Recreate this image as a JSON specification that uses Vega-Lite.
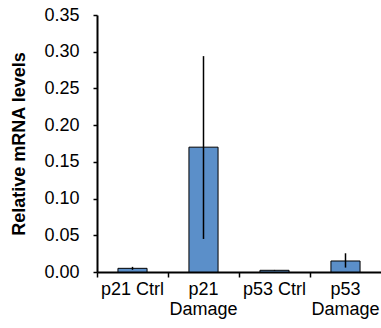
{
  "$schema": "https://vega.github.io/schema/vega-lite/v6.json",
  "width": 284,
  "height": 257,
  "autosize": "none",
  "padding": {"left": 97, "top": 15, "right": 0, "bottom": 56},
  "background": "white",
  "data": {
    "values": [
      {"group": "p21 Ctrl", "value": 0.005, "lo": 0.003, "hi": 0.007},
      {"group": "p21 Damage", "value": 0.170, "lo": 0.045, "hi": 0.294},
      {"group": "p53 Ctrl", "value": 0.0023, "lo": 0.0018, "hi": 0.0028},
      {"group": "p53 Damage", "value": 0.015, "lo": 0.006, "hi": 0.0255}
    ]
  },
  "encoding": {
    "x": {
      "field": "group",
      "type": "nominal",
      "sort": null,
      "scale": {"paddingInner": 0, "paddingOuter": 0},
      "axis": {
        "title": null,
        "labelAngle": 0,
        "bandPosition": 0,
        "domainColor": "black",
        "domainWidth": 2,
        "tickColor": "black",
        "tickWidth": 1.5,
        "tickSize": 5,
        "labelFont": "Liberation Sans",
        "labelFontSize": 18,
        "labelColor": "black",
        "labelPadding": 3,
        "labelLineHeight": 20,
        "labelOverlap": false,
        "labelBound": false,
        "labelFlush": false,
        "labelExpr": "indexof(datum.label, 'Damage') >= 0 ? split(datum.label, ' ') : datum.label"
      }
    }
  },
  "layer": [
    {
      "mark": {"type": "bar", "width": {"band": 0.41}, "color": "#5b8fc9", "stroke": "black", "strokeWidth": 1},
      "encoding": {
        "y": {
          "field": "value",
          "type": "quantitative",
          "scale": {"domain": [0, 0.35]},
          "axis": {
            "title": "Relative mRNA levels",
            "titleFont": "Liberation Sans",
            "titleFontSize": 18,
            "titleFontWeight": "bold",
            "titleColor": "black",
            "titlePadding": 15,
            "values": [0, 0.05, 0.1, 0.15, 0.2, 0.25, 0.3, 0.35],
            "format": ".2f",
            "labelOverlap": false,
            "labelFlush": false,
            "grid": false,
            "domainColor": "black",
            "domainWidth": 2,
            "tickColor": "black",
            "tickWidth": 1.5,
            "tickSize": 4,
            "labelFont": "Liberation Sans",
            "labelFontSize": 18,
            "labelColor": "black",
            "labelPadding": 14
          }
        }
      }
    },
    {
      "mark": {"type": "rule", "color": "black", "strokeWidth": 1.5},
      "encoding": {
        "y": {
          "field": "lo",
          "type": "quantitative",
          "scale": {"domain": [0, 0.35]},
          "axis": {
            "title": "Relative mRNA levels",
            "titleFont": "Liberation Sans",
            "titleFontSize": 18,
            "titleFontWeight": "bold",
            "titleColor": "black",
            "titlePadding": 15,
            "values": [0, 0.05, 0.1, 0.15, 0.2, 0.25, 0.3, 0.35],
            "format": ".2f",
            "labelOverlap": false,
            "labelFlush": false,
            "grid": false,
            "domainColor": "black",
            "domainWidth": 2,
            "tickColor": "black",
            "tickWidth": 1.5,
            "tickSize": 4,
            "labelFont": "Liberation Sans",
            "labelFontSize": 18,
            "labelColor": "black",
            "labelPadding": 14
          }
        },
        "y2": {"field": "hi"}
      }
    }
  ],
  "config": {"view": {"stroke": null}}
}
